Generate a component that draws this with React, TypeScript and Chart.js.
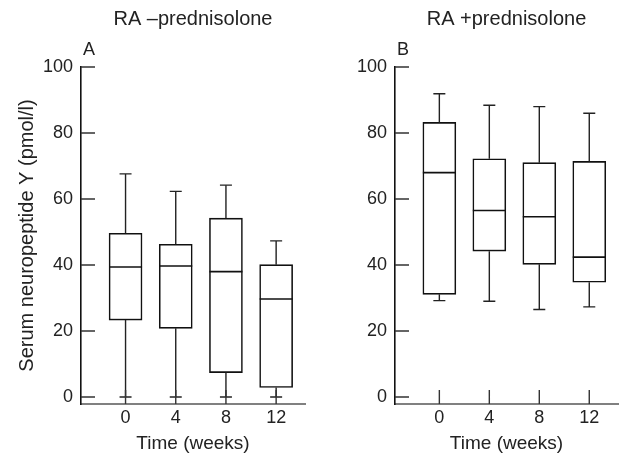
import React, { useEffect, useRef } from "react";
import { Chart, registerables } from "chart.js";
Chart.register(...registerables);

// Time points (weeks)
const weeks = [0, 4, 8, 12];
const weekLabels = ["0", "4", "8", "12"];
const yTickValues = [0, 20, 40, 60, 80, 100];

// Panel A: RA –prednisolone
const aLow = [0, 0, 0, 0];
const aQ1 = [23.3, 20.8, 7.4, 2.9];
const aMedian = [39.4, 39.7, 38.0, 29.7];
const aQ3 = [49.6, 46.3, 54.2, 40.1];
const aHigh = [67.6, 62.3, 64.2, 47.3];

// Panel B: RA +prednisolone
const bLow = [29.2, 29.0, 26.5, 27.3];
const bQ1 = [31.1, 44.2, 40.2, 34.8];
const bMedian = [68.0, 56.5, 54.6, 42.4];
const bQ3 = [83.2, 72.2, 71.0, 71.4];
const bHigh = [91.9, 88.4, 88.0, 86.0];

const FONT = "Liberation Sans";
const FS = 18;
const TEXT = "#222";

type PanelProps = {
  title: string;
  letter: string;
  low: number[];
  q1: number[];
  median: number[];
  q3: number[];
  high: number[];
  axisWidth: number;
  padRight: number;
};

function Panel(p: PanelProps) {
  const ref = useRef<HTMLCanvasElement>(null);
  useEffect(() => {
    if (!ref.current) return;
    const boxPlugin = {
      id: "boxExtras",
      afterDatasetsDraw(chart: any) {
        const ctx = chart.ctx;
        const xs = chart.scales.x;
        const ys = chart.scales.y;
        ctx.save();
        weeks.forEach((w, i) => {
          const cx = xs.getPixelForValue(w);
          const half = 16.5;
          ctx.strokeStyle = "#222";
          ctx.lineWidth = 1.4;
          ctx.beginPath();
          ctx.moveTo(cx, ys.getPixelForValue(p.q3[i]));
          ctx.lineTo(cx, ys.getPixelForValue(p.high[i]));
          ctx.moveTo(cx, ys.getPixelForValue(p.q1[i]));
          ctx.lineTo(cx, ys.getPixelForValue(p.low[i]));
          ctx.stroke();
          ctx.beginPath();
          ctx.moveTo(cx - 6, ys.getPixelForValue(p.high[i]));
          ctx.lineTo(cx + 6, ys.getPixelForValue(p.high[i]));
          ctx.moveTo(cx - 6, ys.getPixelForValue(p.low[i]));
          ctx.lineTo(cx + 6, ys.getPixelForValue(p.low[i]));
          ctx.stroke();
          ctx.strokeStyle = "#111";
          ctx.lineWidth = 1.6;
          ctx.beginPath();
          ctx.moveTo(cx - half, ys.getPixelForValue(p.median[i]));
          ctx.lineTo(cx + half, ys.getPixelForValue(p.median[i]));
          ctx.stroke();
        });
        ctx.restore();
      },
      afterDraw(chart: any) {
        const ctx = chart.ctx;
        const xs = chart.scales.x;
        const ys = chart.scales.y;
        const area = chart.chartArea;
        ctx.save();
        ctx.strokeStyle = "#333";
        ctx.lineWidth = 1.4;
        ctx.beginPath();
        yTickValues.forEach((v) => {
          const y = ys.getPixelForValue(v);
          ctx.moveTo(area.left, y);
          ctx.lineTo(area.left + 14, y);
        });
        weeks.forEach((w) => {
          const x = xs.getPixelForValue(w);
          ctx.moveTo(x, area.bottom);
          ctx.lineTo(x, area.bottom - 14);
        });
        ctx.stroke();
        ctx.fillStyle = TEXT;
        ctx.font = `20px "${FONT}"`;
        ctx.textAlign = "center";
        ctx.textBaseline = "alphabetic";
        ctx.fillText(p.title, (area.left + area.right) / 2, 25);
        ctx.font = `${FS}px "${FONT}"`;
        ctx.textAlign = "left";
        ctx.fillText(p.letter, area.left + 2, 55);
        ctx.restore();
      },
    };

    const chart = new Chart(ref.current, {
      type: "bar",
      data: {
        datasets: [
          {
            data: weeks.map((w, i) => ({ x: w, y: [p.q1[i], p.q3[i]] })) as any,
            backgroundColor: "#ffffff",
            borderColor: "#111",
            borderWidth: 1.6,
            borderSkipped: false,
            barThickness: 33,
          },
        ],
      },
      options: {
        animation: false,
        responsive: false,
        devicePixelRatio: 1,
        layout: { padding: { left: 0, right: p.padRight, top: 67, bottom: 0 } },
        plugins: {
          legend: { display: false },
          title: { display: false },
          tooltip: { enabled: false },
        },
        scales: {
          x: {
            type: "linear",
            min: -3.55,
            max: 14.3,
            offset: false,
            afterBuildTicks: (s: any) => {
              s.ticks = weeks.map((v) => ({ value: v }));
            },
            afterFit: (s: any) => {
              s.height = 55;
            },
            ticks: {
              autoSkip: false,
              maxRotation: 0,
              padding: 3,
              color: TEXT,
              font: { family: FONT, size: FS },
              callback: (v: any, i: number) => weekLabels[i],
            },
            grid: { display: false, drawTicks: false },
            border: { display: true, color: "#808080", width: 2 },
            title: {
              display: true,
              text: "Time (weeks)",
              color: TEXT,
              font: { family: FONT, size: 19 },
              padding: { top: 0, bottom: 4 },
            },
          },
          y: {
            type: "linear",
            min: -2.12,
            max: 100,
            afterBuildTicks: (s: any) => {
              s.ticks = yTickValues.map((v) => ({ value: v }));
            },
            afterFit: (s: any) => {
              s.width = p.axisWidth;
            },
            ticks: {
              padding: 8,
              color: TEXT,
              font: { family: FONT, size: FS },
            },
            grid: { display: false, drawTicks: false },
            border: { display: true, color: "#111", width: 1.6 },
            title: {
              display: p.letter === "A",
              text: "Serum neuropeptide Y (pmol/l)",
              color: TEXT,
              font: { family: FONT, size: 20 },
              padding: { top: 15, bottom: 0 },
            },
          },
        },
      },
      plugins: [boxPlugin],
    } as any);
    return () => chart.destroy();
  }, []);
  return <canvas ref={ref} width={310} height={459} style={{ display: "block" }} />;
}

export default function App() {
  return (
    <div style={{ position: "absolute", left: 0, top: 0, width: 620, height: 459, display: "flex", background: "#fff" }}>
      <Panel title="RA –prednisolone" letter="A" low={aLow} q1={aQ1} median={aMedian} q3={aQ3} high={aHigh} axisWidth={81} padRight={5} />
      <Panel title="RA +prednisolone" letter="B" low={bLow} q1={bQ1} median={bMedian} q3={bQ3} high={bHigh} axisWidth={85} padRight={2} />
    </div>
  );
}
